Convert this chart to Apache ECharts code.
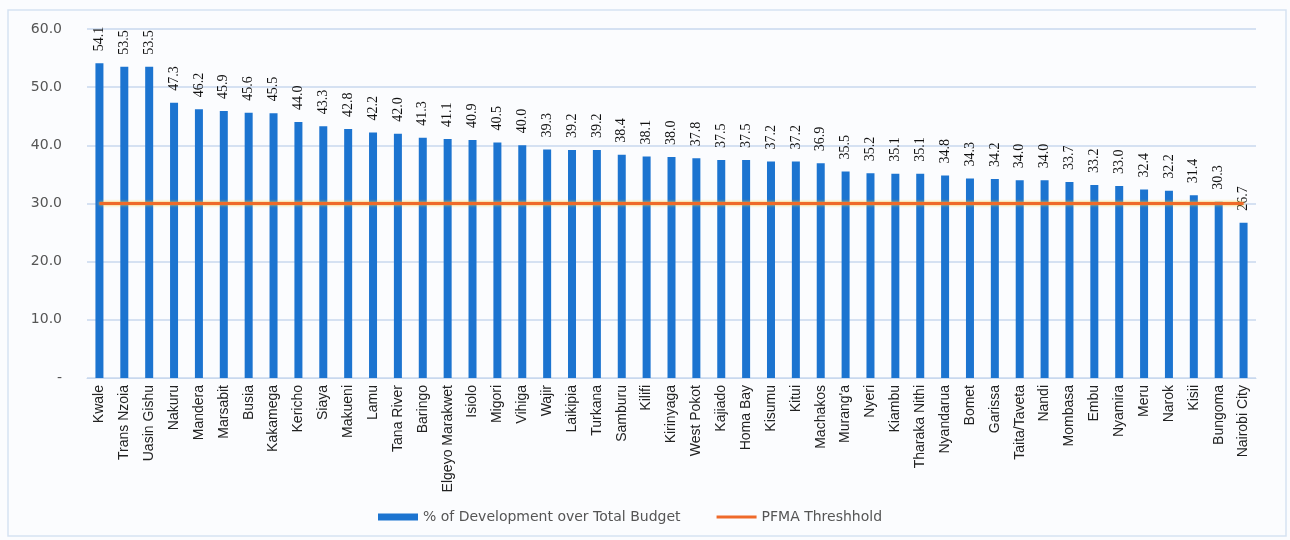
<!DOCTYPE html>
<html lang="en">
<head>
    <meta charset="UTF-8">
    <title>Development Budget by County</title>
    <script src="https://cdn.jsdelivr.net/npm/echarts@6.0.0/dist/echarts.min.js"></script>
    <style>
        html, body { margin: 0; padding: 0; background: #fbfcfe; }
    </style>
</head>
<body>
    <div id="main" style="width: 1290px;height:540px;"></div>
    <script type="text/javascript">
        // County names, in the order shown
        const counties = ['Kwale', 'Trans Nzoia', 'Uasin Gishu', 'Nakuru', 'Mandera', 'Marsabit', 'Busia',
            'Kakamega', 'Kericho', 'Siaya', 'Makueni', 'Lamu', 'Tana River', 'Baringo', 'Elgeyo Marakwet',
            'Isiolo', 'Migori', 'Vihiga', 'Wajir', 'Laikipia', 'Turkana', 'Samburu', 'Kilifi', 'Kirinyaga',
            'West Pokot', 'Kajiado', 'Homa Bay', 'Kisumu', 'Kitui', 'Machakos', "Murang'a", 'Nyeri', 'Kiambu',
            'Tharaka Nithi', 'Nyandarua', 'Bomet', 'Garissa', 'Taita/Taveta', 'Nandi', 'Mombasa', 'Embu',
            'Nyamira', 'Meru', 'Narok', 'Kisii', 'Bungoma', 'Nairobi City'];

        // % of development over total budget
        const devShare = [54.1, 53.5, 53.5, 47.3, 46.2, 45.9, 45.6, 45.5, 44.0, 43.3, 42.8, 42.2, 42.0, 41.3,
            41.1, 40.9, 40.5, 40.0, 39.3, 39.2, 39.2, 38.4, 38.1, 38.0, 37.8, 37.5, 37.5, 37.2, 37.2, 36.9,
            35.5, 35.2, 35.1, 35.1, 34.8, 34.3, 34.2, 34.0, 34.0, 33.7, 33.2, 33.0, 32.4, 32.2, 31.4, 30.3, 26.7];

        // PFMA threshold (30%)
        const threshold = counties.map(() => 30);

        const yTicks = { min: 0, max: 60, interval: 10 };

        let myChart = echarts.init(document.getElementById('main'));

        let options = {
            backgroundColor: '#fbfcfe',
            animation: false,
            graphic: [{
                type: 'rect',
                shape: { x: 8, y: 10, width: 1278, height: 526 },
                style: { fill: 'none', stroke: '#d6e2f2', lineWidth: 1.5 },
                silent: true
            }],
            grid: { left: 87, right: 34, top: 29, bottom: 162 },
            legend: {
                bottom: 11,
                left: 373,
                itemWidth: 40,
                itemHeight: 7,
                itemGap: 36,
                textStyle: { fontFamily: 'DejaVu Sans', fontSize: 14, color: '#555' },
                data: [
                    { name: '% of Development over Total Budget', icon: 'rect' },
                    { name: 'PFMA Threshhold', icon: 'path://M0,0 L40,0 L40,3 L0,3 Z', itemStyle: { color: '#ef6a2a' } }
                ]
            },
            xAxis: {
                type: 'category',
                data: counties,
                axisLine: { lineStyle: { color: '#c8d8ee' } },
                axisTick: { show: false },
                axisLabel: {
                    interval: 0,
                    rotate: 90,
                    margin: 7,
                    fontFamily: 'Liberation Sans Narrow, Liberation Sans',
                    fontSize: 14,
                    color: '#222'
                }
            },
            yAxis: {
                type: 'value',
                min: yTicks.min,
                max: yTicks.max,
                interval: yTicks.interval,
                axisLine: { show: false },
                axisTick: { show: false },
                splitLine: { lineStyle: { color: '#c8d8ee', width: 1.5 } },
                axisLabel: {
                    margin: 25,
                    fontFamily: 'DejaVu Sans',
                    fontSize: 14,
                    color: '#555',
                    formatter: v => v === 0 ? '-' : v.toFixed(1)
                }
            },
            series: [{
                name: '% of Development over Total Budget',
                type: 'bar',
                data: devShare,
                barWidth: 8,
                itemStyle: { color: '#1c74d0' },
                label: {
                    show: true,
                    position: 'top',
                    fontFamily: 'Liberation Serif',
                    fontSize: 14,
                    color: '#111',
                    formatter: p => p.value.toFixed(1)
                },
                // stand the value labels upright above each bar
                labelLayout: params => ({
                    x: params.rect.x + params.rect.width / 2,
                    y: params.rect.y - 12,
                    rotate: 90,
                    align: 'left',
                    verticalAlign: 'middle'
                })
            }, {
                name: 'PFMA Threshhold',
                type: 'line',
                data: threshold,
                symbol: 'none',
                z: 3,
                lineStyle: { color: '#ef6a2a', width: 3, shadowColor: '#f4c430', shadowBlur: 3 },
                itemStyle: { color: '#ef6a2a' }
            }]
        };

        myChart.setOption(options);
    </script>
</body>
</html>
